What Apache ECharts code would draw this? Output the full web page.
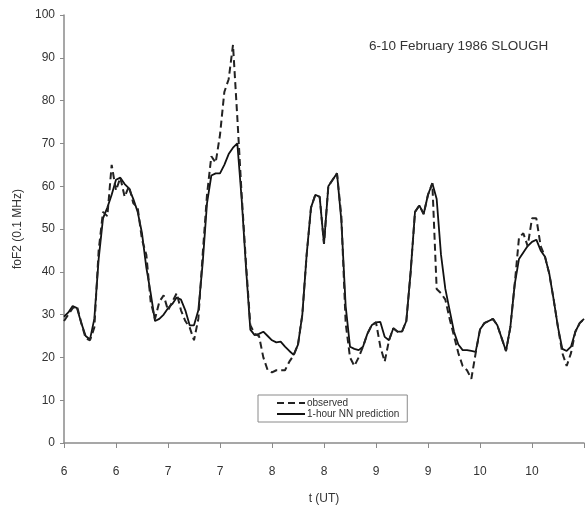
<!DOCTYPE html>
<html>
<head>
<meta charset="utf-8">
<script src="https://cdn.jsdelivr.net/npm/echarts@6/dist/echarts.min.js"></script>
<style>
  html, body { margin: 0; padding: 0; background: #fff; }
  #chart { width: 587px; height: 513px; }
</style>
</head>
<body>
<div id="chart"></div>
<script>
// hourly samples starting 6 Feb 00 UT (x axis is in days)
var startDay = 6
var hoursPerDay = 24

var prediction = [
  29.5, 30.5, 32, 31.5, 28, 25, 24.2, 29, 43, 52.5,
  55, 58, 61.5, 62, 60.5, 59.5, 57, 54, 49, 41,
  35, 28.5, 29, 30, 31.5, 32.5, 34, 33.5, 31, 27.5,
  27.5, 31, 42, 56, 62.5, 63, 63, 65, 67.5, 69,
  70, 57, 41, 26.5, 25.2, 25.5, 26, 25, 24, 23.5,
  23.7, 22.5, 21.5, 20.6, 23, 30, 44, 55, 58, 57.5,
  46.5, 60, 61.5, 63, 52, 32, 22.5, 22, 21.7, 22.5,
  25.5, 27.5, 28.2, 28.3, 24.8, 24, 26.8, 26, 26, 28.5,
  40, 54, 55.5, 53.5, 58, 60.7, 57, 44, 36, 31,
  26, 23, 21.7, 21.7, 21.5, 21.3, 26.5, 28, 28.5, 29,
  27.5, 24.5, 21.5, 27, 37, 43, 44.5, 46, 47, 47.5,
  45, 43.5, 39.5, 33.5, 27, 22, 21.5, 22.5, 26, 28,
  29
]

var observed = [
  28.5, 30, 31.5, 32, 28, 24.5, 24, 27, 45, 54,
  53, 65, 59, 62, 57.5, 60, 56, 55, 47.5, 44,
  33, 29, 33, 34.5, 31, 33, 35, 31, 28.5, 27,
  24, 29, 44, 58, 67, 65.5, 72, 82, 85, 93,
  76, 58, 42, 27.5, 25.5, 25, 20, 17, 16.5, 17,
  17, 17, 19, 20.5, 23, 30, 44, 55, 58, 57.5,
  46.5, 60, 61.5, 63, 53, 28, 20, 18, 20, 22.5,
  25.5, 27.5, 28.2, 22.5, 19, 24, 26.8, 26, 26, 28.5,
  40, 54, 55.5, 53.5, 58, 60.7, 36, 35, 33.5, 29,
  25, 21, 18, 17, 15, 21, 26.5, 28, 28.5, 29,
  27.5, 24.5, 21.5, 27, 37, 48, 49, 46, 52.5, 52.5,
  46, 43.5, 39.5, 33.5, 27, 21, 18, 21, 26, 28,
  29
]

var seriesNames = ['observed', '1-hour NN prediction']
var chartTitle = '6-10 February 1986 SLOUGH'

function toPoints(values) {
  return values.map(function (v, i) {
    return [startDay + i / hoursPerDay, v]
  })
}

var font = 'Liberation Sans, Arial, sans-serif'
var axisColor = '#8a8a8a'
var textColor = '#333'

var chart = echarts.init(document.getElementById('chart'), null, { renderer: 'canvas' })

chart.setOption({
  animation: false,
  backgroundColor: '#fff',
  title: {
    text: chartTitle,
    left: 364,
    top: 34,
    textStyle: { fontFamily: font, fontSize: 13.5, fontWeight: 'normal', color: textColor }
  },
  legend: {
    orient: 'vertical',
    left: 258,
    top: 395,
    data: seriesNames,
    itemWidth: 28,
    itemHeight: 8,
    itemGap: 1,
    padding: [3, 8, 3, 18],
    borderColor: axisColor,
    borderWidth: 1,
    borderRadius: 0,
    itemStyle: { opacity: 0 },
    textStyle: { fontFamily: font, fontSize: 10, color: textColor, padding: [0, 0, 0, -3] }
  },
  grid: {
    left: 64,
    right: -3,
    top: 15,
    bottom: 70
  },
  xAxis: {
    type: 'value',
    min: 6,
    max: 11,
    interval: 0.5,
    name: 't (UT)',
    nameLocation: 'middle',
    nameGap: 50,
    nameTextStyle: { fontFamily: font, fontSize: 12, color: textColor },
    axisLine: { lineStyle: { color: axisColor, width: 1.5 } },
    axisTick: { show: true, length: 5, lineStyle: { color: axisColor } },
    splitLine: { show: false },
    axisLabel: {
      margin: 23,
      fontFamily: font,
      fontSize: 12,
      color: textColor,
      formatter: function (v) {
        if (v >= 11) return ''
        return String(Math.floor(v + 1e-6))
      }
    }
  },
  yAxis: {
    type: 'value',
    min: 0,
    max: 100,
    interval: 10,
    name: 'foF2 (0.1 MHz)',
    nameLocation: 'middle',
    nameGap: 37,
    nameTextStyle: { fontFamily: font, fontSize: 12, color: textColor },
    axisLine: { show: true, lineStyle: { color: axisColor, width: 1.5 } },
    axisTick: { show: true, length: 4, lineStyle: { color: axisColor } },
    splitLine: { show: false },
    axisLabel: { margin: 9, fontFamily: font, fontSize: 12, color: textColor }
  },
  series: [{
    name: seriesNames[0],
    type: 'line',
    data: toPoints(observed),
    showSymbol: false,
    symbol: 'none',
    z: 3,
    lineStyle: { color: '#222', width: 2, type: [7, 4] },
    itemStyle: { color: '#222' }
  }, {
    name: seriesNames[1],
    type: 'line',
    data: toPoints(prediction),
    showSymbol: false,
    symbol: 'none',
    z: 2,
    lineStyle: { color: '#111', width: 1.8 },
    itemStyle: { color: '#111' }
  }]
})
</script>
</body>
</html>
